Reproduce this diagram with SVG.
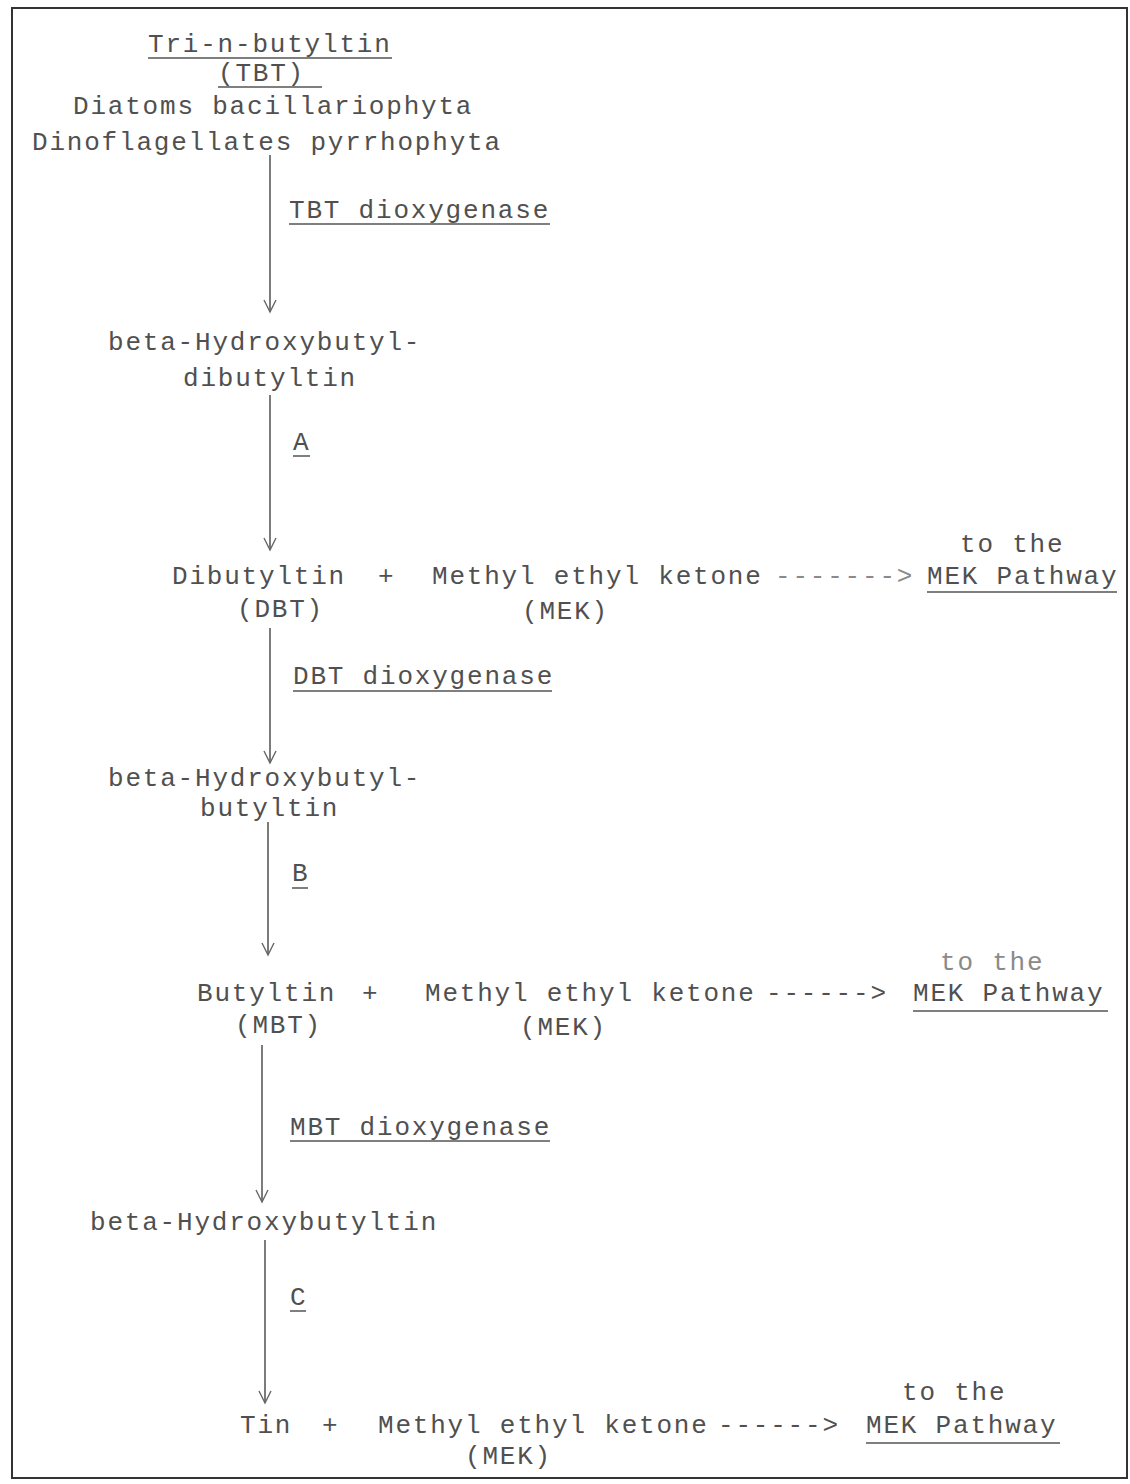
<svg xmlns="http://www.w3.org/2000/svg" width="1130" height="1484" viewBox="0 0 1130 1484">
<style>
.t{font-family:"Liberation Mono","DejaVu Sans Mono",monospace;font-size:26px;letter-spacing:1.8px;fill:#505050}
.l{fill:#8a8a8a}
.u{stroke:#555;stroke-width:1.5}
.c{stroke:#444;stroke-width:1.4;fill:none}
</style>
<defs>
<marker id="ah" viewBox="-14 -8 16 16" markerWidth="16" markerHeight="16" refX="0" refY="0" orient="auto" markerUnits="userSpaceOnUse">
<path d="M-12,-6 L0,0 L-12,6" fill="none" stroke="#666" stroke-width="1.4"/>
</marker>
</defs>
<rect width="1130" height="1484" fill="#fff"/>
<rect x="12" y="8" width="1115" height="1470" fill="none" stroke="#333" stroke-width="2"/>

<g id="n-tbt">
<text class="t" x="148" y="52">Tri-n-butyltin</text>
<line class="u" x1="148" y1="58" x2="392" y2="58"/>
<text class="t" x="218" y="81">(TBT)</text>
<line class="u" x1="218" y1="87" x2="322" y2="87"/>
<text class="t" x="73" y="114">Diatoms bacillariophyta</text>
<text class="t" x="32" y="150">Dinoflagellates pyrrhophyta</text>
</g>
<g id="n-hbdbt">
<text class="t" x="108" y="350">beta-Hydroxybutyl-</text>
<text class="t" x="183" y="386">dibutyltin</text>
</g>
<g id="n-dbt">
<text class="t" x="172" y="584">Dibutyltin</text>
<text class="t" x="378" y="584">+</text>
<text class="t" x="237" y="617">(DBT)</text>
</g>
<g id="n-mek1">
<text class="t" x="432" y="584">Methyl ethyl ketone</text>
<text class="t" x="522" y="619">(MEK)</text>
</g>
<g id="n-path1">
<text class="t" x="960" y="552">to the</text>
<text class="t" x="927" y="584">MEK Pathway</text>
<line class="u" x1="927" y1="592" x2="1117" y2="592"/>
</g>
<g id="n-hbbt">
<text class="t" x="108" y="786">beta-Hydroxybutyl-</text>
<text class="t" x="200" y="816">butyltin</text>
</g>
<g id="n-mbt">
<text class="t" x="197" y="1001">Butyltin</text>
<text class="t" x="362" y="1001">+</text>
<text class="t" x="235" y="1033">(MBT)</text>
</g>
<g id="n-mek2">
<text class="t" x="425" y="1001">Methyl ethyl ketone</text>
<text class="t" x="520" y="1035">(MEK)</text>
</g>
<g id="n-path2">
<text class="t l" x="940" y="970">to the</text>
<text class="t" x="913" y="1001">MEK Pathway</text>
<line class="u" x1="913" y1="1011" x2="1108" y2="1011"/>
</g>
<g id="n-hbt">
<text class="t" x="90" y="1230">beta-Hydroxybutyltin</text>
</g>
<g id="n-tin">
<text class="t" x="240" y="1433">Tin</text>
<text class="t" x="322" y="1433">+</text>
</g>
<g id="n-mek3">
<text class="t" x="378" y="1433">Methyl ethyl ketone</text>
<text class="t" x="465" y="1464">(MEK)</text>
</g>
<g id="n-path3">
<text class="t" x="902" y="1400">to the</text>
<text class="t" x="866" y="1433">MEK Pathway</text>
<line class="u" x1="866" y1="1443" x2="1060" y2="1443"/>
</g>

<g id="connectors">
<line class="c" x1="270" y1="155" x2="270" y2="312" marker-end="url(#ah)"/>
<line class="c" x1="270" y1="395" x2="270" y2="550" marker-end="url(#ah)"/>
<line class="c" x1="270" y1="628" x2="270" y2="763" marker-end="url(#ah)"/>
<line class="c" x1="268" y1="822" x2="268" y2="955" marker-end="url(#ah)"/>
<line class="c" x1="262" y1="1045" x2="262" y2="1202" marker-end="url(#ah)"/>
<line class="c" x1="265" y1="1240" x2="265" y2="1403" marker-end="url(#ah)"/>
<text class="t l" x="775" y="584">-------&gt;</text>
<text class="t" x="766" y="1001">------&gt;</text>
<text class="t" x="718" y="1433">------&gt;</text>
<text class="t" x="289" y="218">TBT dioxygenase</text>
<line class="u" x1="289" y1="224" x2="550" y2="224"/>
<text class="t" x="293" y="450">A</text>
<line class="u" x1="293" y1="456" x2="310" y2="456"/>
<text class="t" x="293" y="684">DBT dioxygenase</text>
<line class="u" x1="293" y1="691" x2="552" y2="691"/>
<text class="t" x="292" y="881">B</text>
<line class="u" x1="292" y1="888" x2="308" y2="888"/>
<text class="t" x="290" y="1135">MBT dioxygenase</text>
<line class="u" x1="290" y1="1141" x2="550" y2="1141"/>
<text class="t" x="290" y="1305">C</text>
<line class="u" x1="290" y1="1311" x2="306" y2="1311"/>
</g>
</svg>
